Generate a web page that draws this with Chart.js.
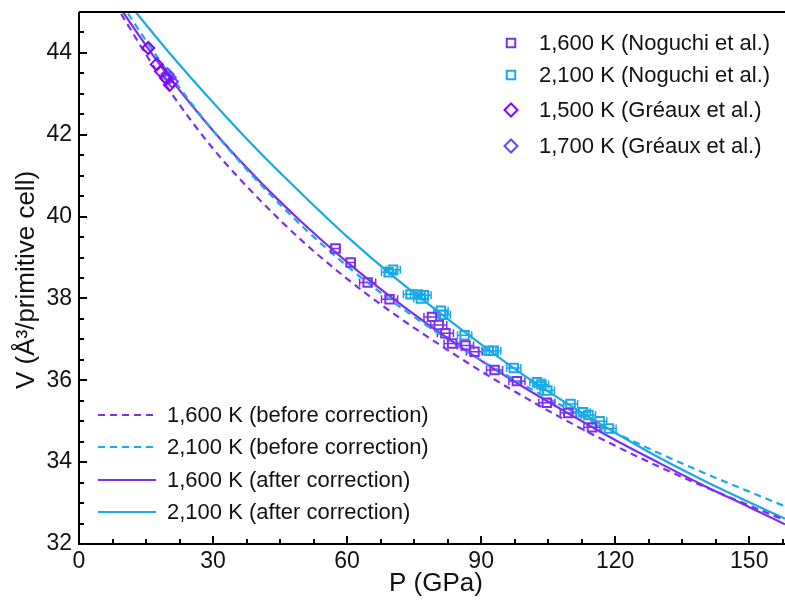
<!DOCTYPE html>
<html><head><meta charset="utf-8">
<script src="https://cdn.jsdelivr.net/npm/chart.js@4/dist/chart.umd.min.js"></script>
<style>html,body{margin:0;padding:0;background:#fff;}#wrap{width:785px;height:602px;}</style>
</head><body><div id="wrap"><canvas id="c" width="785" height="602"></canvas></div>
<script>
// ---- data ----
const curveP = [8,10,15,20,30,40,50,60,70,80,90,100,110,120,130,140,150,158];
const v1600Before = [45.20,44.85,43.96,43.12,41.66,40.46,39.40,38.48,37.66,36.92,36.22,35.57,34.96,34.40,33.88,33.40,32.94,32.58];
const v2100Before = [45.45,45.12,44.30,43.52,42.10,40.86,39.76,38.79,37.94,37.18,36.49,35.86,35.27,34.72,34.21,33.73,33.28,32.92];
const v1600After  = [45.30,44.97,44.18,43.44,42.10,40.91,39.85,38.89,38.02,37.22,36.48,35.80,35.16,34.54,33.97,33.42,32.90,32.48];
const v2100After  = [45.62,45.36,44.69,44.03,42.79,41.62,40.54,39.51,38.57,37.71,36.88,36.09,35.38,34.72,34.10,33.54,33.02,32.62];

const nog1600P = [57.4,60.8,64.6,69.5,79.0,80.5,82.0,83.5,86.5,88.5,93.0,98.0,104.7,109.5,114.8];
const nog1600V = [39.22,38.88,38.39,37.98,37.55,37.35,37.15,36.90,36.85,36.70,36.25,35.98,35.45,35.20,34.85];
const nog1600Err = [1.0,1.0,1.8,1.8,1.8,1.8,1.8,1.8,1.8,1.8,1.8,1.8,1.8,1.8,1.8];

const nog2100P = [69.3,70.3,74.2,75.8,77.2,76.5,81.0,81.5,86.3,91.7,92.8,97.3,102.5,103.5,104.8,110.0,112.8,114.0,116.5,118.6];
const nog2100V = [38.64,38.70,38.10,38.10,38.08,38.00,37.70,37.60,37.10,36.72,36.72,36.30,35.95,35.90,35.75,35.42,35.22,35.15,35.00,34.82];
const nog2100Err = [1.6,1.6,1.6,1.6,1.6,1.6,1.6,1.6,1.6,1.6,1.6,1.6,1.6,1.6,1.6,1.6,1.6,1.6,1.6,1.6];

const gre1500P = [15.5,17.4,18.3,19.5,20.3];
const gre1500V = [44.12,43.72,43.55,43.38,43.22];
const gre1700P = [19.8,20.3,20.8];
const gre1700V = [43.48,43.40,43.30];

const xTickLabels = [0,30,60,90,120,150];
const yTickLabels = [32,34,36,38,40,42,44];

const PURPLE = '#7b2ff2', CYAN = '#1aa9e6', G1500 = '#8a00ff', G1700 = '#5f4cff';
const FONT = '"Liberation Sans", Arial, sans-serif';

const pts = (xs, ys) => xs.map((x,i)=>({x:x, y:ys[i]}));

const curve = (label, ys, color, dashed) => ({
  type:'line', label, data: pts(curveP, ys), borderColor: color, borderWidth: 2.2,
  borderDash: dashed ? [7,5] : [], pointRadius: 0, fill:false,
  cubicInterpolationMode:'monotone', order: 2
});
const scat = (label, xs, ys, color, style, r, err) => ({
  type:'scatter', label, data: pts(xs, ys), borderColor: color, backgroundColor:'rgba(0,0,0,0)',
  pointStyle: style, pointRadius: r, pointBorderWidth: 2, pointHoverRadius: r, order: 1, xErr: err
});

const errorBars = {
  id:'errorBars',
  beforeDatasetsDraw(chart){
    const {ctx, scales:{x,y}, chartArea:a} = chart;
    ctx.save();
    ctx.beginPath(); ctx.rect(a.left,a.top,a.right-a.left,a.bottom-a.top); ctx.clip();
    chart.data.datasets.forEach(ds=>{
      if(!ds.xErr) return;
      ctx.strokeStyle = ds.borderColor; ctx.lineWidth = 1.5;
      ds.data.forEach((p,i)=>{
        const e = ds.xErr[i];
        const x1 = x.getPixelForValue(p.x - e), x2 = x.getPixelForValue(p.x + e), yy = y.getPixelForValue(p.y);
        ctx.beginPath();
        ctx.moveTo(x1,yy); ctx.lineTo(x2,yy);
        ctx.moveTo(x1,yy-4); ctx.lineTo(x1,yy+4);
        ctx.moveTo(x2,yy-4); ctx.lineTo(x2,yy+4);
        ctx.stroke();
      });
    });
    ctx.restore();
  }
};

const frame = {
  id:'frame',
  afterDraw(chart){
    const {ctx, scales:{x,y}, chartArea:a} = chart;
    ctx.save();
    ctx.strokeStyle = '#000'; ctx.lineWidth = 2;
    for(let v=0; v<=x.max+1e-9; v+=7.5){
      const px = Math.round(x.getPixelForValue(v));
      const len = (Math.abs(v%30)<1e-9) ? 8 : 5;
      ctx.beginPath(); ctx.moveTo(px, a.bottom); ctx.lineTo(px, a.bottom-len); ctx.stroke();
    }
    for(let v=32; v<=45+1e-9; v+=0.5){
      const py = Math.round(y.getPixelForValue(v));
      const len = (Math.abs(v%2)<1e-9) ? 8 : 5;
      ctx.beginPath(); ctx.moveTo(a.left, py); ctx.lineTo(a.left+len, py); ctx.stroke();
    }
    ctx.beginPath();
    ctx.moveTo(a.left, a.top); ctx.lineTo(a.left, a.bottom); ctx.lineTo(a.right, a.bottom);
    ctx.moveTo(a.left, a.top); ctx.lineTo(a.right, a.top);
    ctx.stroke();
    // axis titles
    ctx.fillStyle = '#111';
    ctx.font = '26px ' + FONT;
    ctx.textAlign = 'center'; ctx.textBaseline = 'middle';
    ctx.fillText('P (GPa)', 436, 584);
    ctx.save();
    ctx.translate(27, (a.top+a.bottom)/2 + 2);
    ctx.rotate(-Math.PI/2);
    ctx.fillText('V (Å³/primitive cell)', 0, 0);
    ctx.restore();
    // legend top-right
    ctx.font = '22px ' + FONT;
    ctx.textAlign = 'left';
    const leg1 = [
      ['1,600 K (Noguchi et al.)', PURPLE, 'rect', 6, 43],
      ['2,100 K (Noguchi et al.)', CYAN, 'rect', 6, 75],
      ['1,500 K (Gréaux et al.)', G1500, 'rectRot', 6.5, 110],
      ['1,700 K (Gréaux et al.)', G1700, 'rectRot', 6.5, 146]
    ];
    leg1.forEach(([t,c,s,r,yy])=>{
      ctx.strokeStyle = c; ctx.lineWidth = 2; ctx.fillStyle = 'rgba(0,0,0,0)';
      Chart.helpers.drawPoint(ctx, {pointStyle:s, radius:r, borderWidth:2}, 511, yy);
      ctx.fillStyle = '#111';
      ctx.fillText(t, 539, yy+1);
    });
    // legend bottom-left
    const leg2 = [
      ['1,600 K (before correction)', PURPLE, true, 415],
      ['2,100 K (before correction)', CYAN, true, 447],
      ['1,600 K (after correction)', PURPLE, false, 480],
      ['2,100 K (after correction)', CYAN, false, 512]
    ];
    leg2.forEach(([t,c,d,yy])=>{
      ctx.strokeStyle = c; ctx.lineWidth = 2.2;
      ctx.setLineDash(d ? [7,5] : []);
      ctx.beginPath(); ctx.moveTo(98, yy); ctx.lineTo(156, yy); ctx.stroke();
      ctx.setLineDash([]);
      ctx.fillStyle = '#111';
      ctx.fillText(t, 167, yy+1);
    });
    ctx.restore();
  }
};

const zeroPad = (s) => { s.paddingLeft = 0; s.paddingRight = 0; s.paddingTop = 0; s.paddingBottom = 0; };

new Chart(document.getElementById('c'), {
  data: {
    datasets: [
      scat('1,600 K (Noguchi et al.)', nog1600P, nog1600V, PURPLE, 'rect', 6, nog1600Err),
      scat('2,100 K (Noguchi et al.)', nog2100P, nog2100V, CYAN, 'rect', 6, nog2100Err),
      scat('1,500 K (Gréaux et al.)', gre1500P, gre1500V, G1500, 'rectRot', 6, null),
      scat('1,700 K (Gréaux et al.)', gre1700P, gre1700V, G1700, 'rectRot', 6, null),
      curve('1,600 K (before correction)', v1600Before, PURPLE, true),
      curve('2,100 K (before correction)', v2100Before, CYAN, true),
      curve('1,600 K (after correction)', v1600After, PURPLE, false),
      curve('2,100 K (after correction)', v2100After, CYAN, false)
    ]
  },
  options: {
    responsive:false, animation:false, devicePixelRatio:1,
    layout:{autoPadding:false, padding:{top:12,right:0,left:0,bottom:0}},
    plugins:{legend:{display:false}, tooltip:{enabled:false}},
    scales:{
      x:{type:'linear', min:0, max:158,
         afterFit(s){ s.height = 58; zeroPad(s); },
         grid:{display:false, drawTicks:false}, border:{display:false},
         ticks:{stepSize:7.5, padding:4, color:'#111', font:{family:FONT, size:23},
                autoSkip:false, maxRotation:0,
                callback:(v)=> xTickLabels.includes(v) ? String(v) : ''}},
      y:{type:'linear', min:32, max:45,
         afterFit(s){ s.width = 79; zeroPad(s); },
         grid:{display:false, drawTicks:false}, border:{display:false},
         ticks:{stepSize:0.5, padding:7, color:'#111', font:{family:FONT, size:23},
                autoSkip:false,
                callback:(v)=> yTickLabels.includes(v) ? String(v) : ''}}
    }
  },
  plugins:[errorBars, frame]
});
</script></body></html>
